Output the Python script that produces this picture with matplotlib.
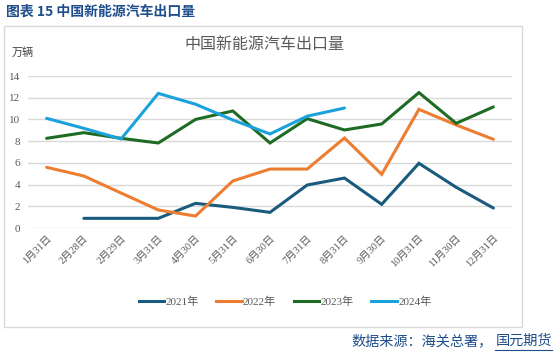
import matplotlib
matplotlib.use("Agg")
import matplotlib.pyplot as plt
from matplotlib.patches import Rectangle
from matplotlib.lines import Line2D

categories = ["1月31日", "2月28日", "2月29日", "3月31日", "4月30日", "5月31日", "6月30日",
              "7月31日", "8月31日", "9月30日", "10月31日", "11月30日", "12月31日"]
s2021 = [None, 0.89, 0.89, 0.89, 2.27, 1.90, 1.44, 3.96, 4.60, 2.18, 5.96, 3.75, 1.84]
s2022 = [5.59, 4.79, 3.22, 1.66, 1.10, 4.33, 5.43, 5.43, 8.29, 4.94, 10.93, 9.49, 8.17]
s2023 = [8.26, 8.78, 8.26, 7.83, 10.00, 10.78, 7.83, 10.07, 9.03, 9.58, 12.47, 9.64, 11.15]
s2024 = [10.10, 9.18, 8.20, 12.40, 11.40, 9.95, 8.66, 10.30, 11.05]
series = [("2021年", s2021, "#1A5A7C"), ("2022年", s2022, "#ED7D31"),
          ("2023年", s2023, "#1E6B24"), ("2024年", s2024, "#1BA1DB")]
yticks = [0, 2, 4, 6, 8, 10, 12, 14]

W, H = 555, 352
fig = plt.figure(figsize=(W / 100, H / 100), dpi=100)
fig.patch.set_facecolor("white")

cjk = ["Noto Sans CJK SC", "DejaVu Sans"]
serif_cjk = ["Liberation Serif", "Noto Sans CJK SC"]

# outer frame
fig.patches.append(Rectangle((4 / W, 1 - 327 / H), (522 - 4) / W, (327 - 26) / H,
                             transform=fig.transFigure, fill=False,
                             edgecolor="#D9D9D9", linewidth=1))

ax = fig.add_axes([28 / W, 1 - 228 / H, (512 - 28) / W, (228 - 76) / H])
ax.set_xlim(-0.5, len(categories) - 0.5)
ax.set_ylim(0, 14)
for name, vals, col in series:
    xs = [i for i, v in enumerate(vals) if v is not None]
    ys = [v for v in vals if v is not None]
    ax.plot(xs, ys, color=col, linewidth=2.2, label=name, solid_capstyle="round",
            solid_joinstyle="miter", zorder=3)

ax.set_yticks(yticks)
ax.set_yticklabels([str(t) for t in yticks], family=serif_cjk, fontsize=8, color="#595959")
ax.set_xticks(range(len(categories)))
ax.set_xticklabels(categories, rotation=45, ha="right", rotation_mode="anchor",
                   family=serif_cjk, fontsize=7.5, color="#595959")
ax.tick_params(length=0, pad=4)
ax.tick_params(axis="y", pad=5.5)
ax.grid(axis="y", color="#D9D9D9", linewidth=1)
ax.set_axisbelow(True)
for sp in ax.spines.values():
    sp.set_visible(False)

# texts
fig.text(6 / W, 1 - 12 / H, "图表 15 中国新能源汽车出口量", family=cjk, fontsize=10,
         color="#1F4E8C", fontweight="bold", va="center", ha="left")
fig.text(264 / W, 1 - 45 / H, "中国新能源汽车出口量", family=cjk, fontsize=11.5,
         color="#595959", va="center", ha="center")
fig.text(12 / W, 1 - 53 / H, "万辆", family=cjk, fontsize=8, color="#404040",
         va="center", ha="left")

handles = [Line2D([0], [0], color=c, linewidth=2.2) for _, _, c in series]
labels = [n for n, _, _ in series]
fig.legend(handles, labels, loc="center", bbox_to_anchor=(285 / W, 1 - 302 / H), ncol=4,
           frameon=False, prop={"family": serif_cjk, "size": 8}, handlelength=2.3,
           handletextpad=0.1, columnspacing=1.6, labelcolor="#595959")

fig.text(351 / W, 1 - 341 / H, "数据来源：海关总署，", family=cjk, fontsize=10.2,
         color="#1F4E8C", va="center", ha="left")
fig.text(552 / W, 1 - 341 / H, "国元期货", family=cjk, fontsize=10.2,
         color="#1F4E8C", va="center", ha="right")
fig.lines.append(Line2D([495 / W, 552 / W], [1 - 350 / H, 1 - 350 / H],
                        transform=fig.transFigure, color="#1F4E8C", linewidth=0.8))

fig.savefig("out.png", dpi=100, facecolor="white")
